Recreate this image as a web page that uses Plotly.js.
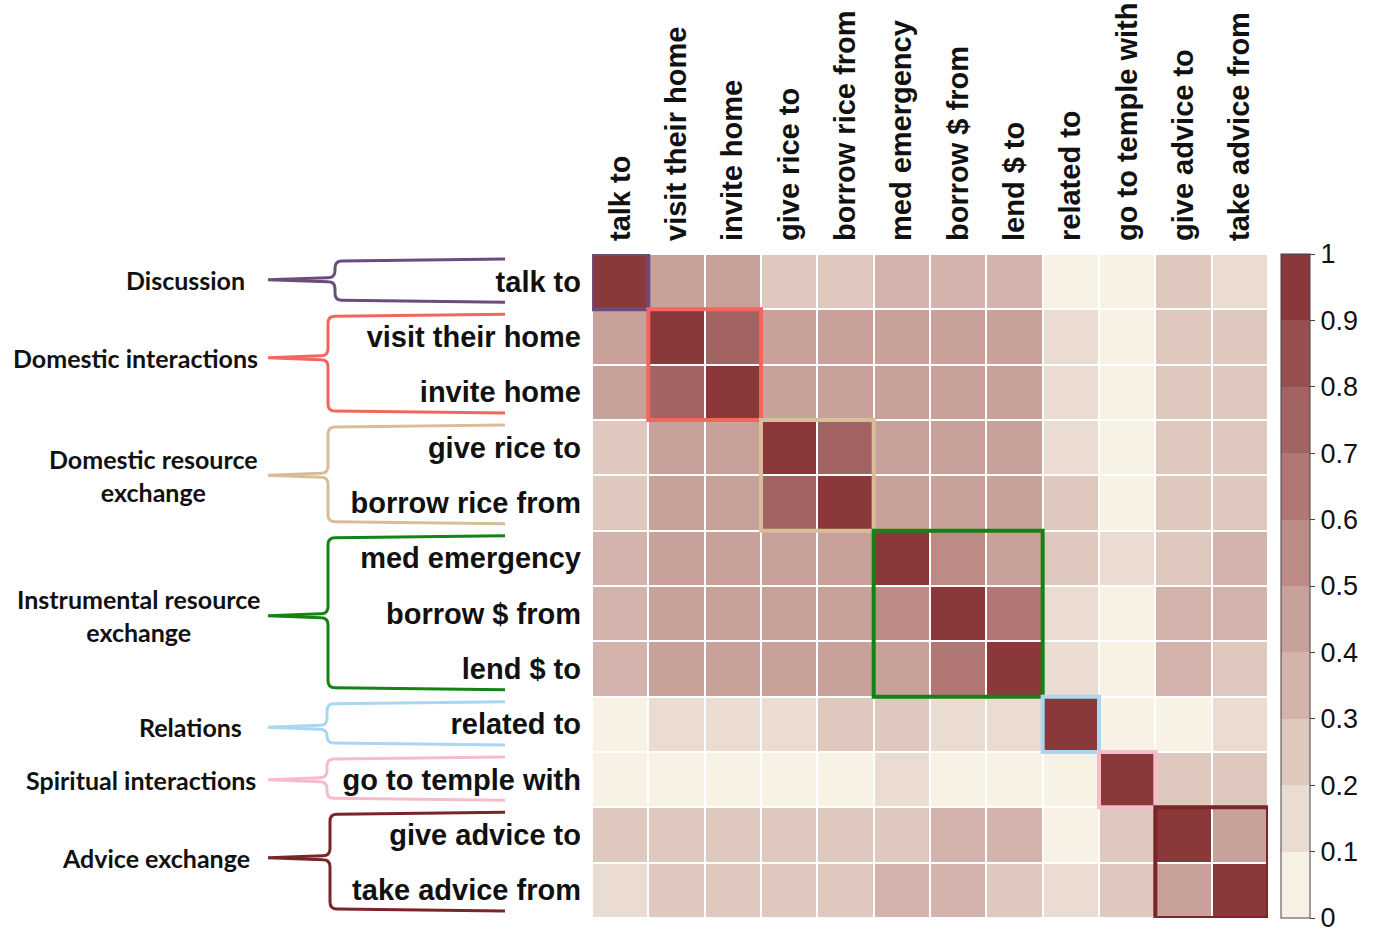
<!DOCTYPE html>
<html>
<head>
<meta charset="utf-8">
<script src="https://cdn.plot.ly/plotly-3.0.1.min.js"></script>
<style>
  html, body { margin: 0; padding: 0; background: #ffffff; }
  #chart { width: 1374px; height: 933px; }
</style>
</head>
<body>
<div id="chart"></div>
<script>
// ---------- DATA ----------
const relationTypes = [
  "talk to", "visit their home", "invite home", "give rice to", "borrow rice from",
  "med emergency", "borrow $ from", "lend $ to", "related to", "go to temple with",
  "give advice to", "take advice from"
];

// one row per relation type (rows top to bottom), columns in the same order
const rowTalkTo          = [1.00, 0.45, 0.45, 0.25, 0.25, 0.35, 0.35, 0.35, 0.05, 0.05, 0.25, 0.15];
const rowVisitTheirHome  = [0.45, 1.00, 0.75, 0.45, 0.45, 0.45, 0.45, 0.45, 0.15, 0.05, 0.25, 0.25];
const rowInviteHome      = [0.45, 0.75, 1.00, 0.45, 0.45, 0.45, 0.45, 0.45, 0.15, 0.05, 0.25, 0.25];
const rowGiveRiceTo      = [0.25, 0.45, 0.45, 1.00, 0.75, 0.45, 0.45, 0.45, 0.15, 0.05, 0.25, 0.25];
const rowBorrowRiceFrom  = [0.25, 0.45, 0.45, 0.75, 1.00, 0.45, 0.45, 0.45, 0.25, 0.05, 0.25, 0.25];
const rowMedEmergency    = [0.35, 0.45, 0.45, 0.45, 0.45, 1.00, 0.55, 0.45, 0.25, 0.15, 0.25, 0.35];
const rowBorrowMoneyFrom = [0.35, 0.45, 0.45, 0.45, 0.45, 0.55, 1.00, 0.65, 0.15, 0.05, 0.35, 0.35];
const rowLendMoneyTo     = [0.35, 0.45, 0.45, 0.45, 0.45, 0.45, 0.65, 1.00, 0.15, 0.05, 0.35, 0.25];
const rowRelatedTo       = [0.05, 0.15, 0.15, 0.15, 0.25, 0.25, 0.15, 0.15, 1.00, 0.05, 0.05, 0.15];
const rowGoToTempleWith  = [0.05, 0.05, 0.05, 0.05, 0.05, 0.15, 0.05, 0.05, 0.05, 1.00, 0.25, 0.25];
const rowGiveAdviceTo    = [0.25, 0.25, 0.25, 0.25, 0.25, 0.25, 0.35, 0.35, 0.05, 0.25, 1.00, 0.45];
const rowTakeAdviceFrom  = [0.15, 0.25, 0.25, 0.25, 0.25, 0.35, 0.35, 0.25, 0.15, 0.25, 0.45, 1.00];

const colorbarTickValues = [0, 0.1, 0.2, 0.3, 0.4, 0.5, 0.6, 0.7, 0.8, 0.9, 1];
const colorbarTickLabels = ["0", "0.1", "0.2", "0.3", "0.4", "0.5", "0.6", "0.7", "0.8", "0.9", "1"];

// groups of relation types: label, first row, last row
const groupNames = [
  "Discussion", "Domestic interactions", "Domestic resource<br>exchange",
  "Instrumental resource<br>exchange", "Relations", "Spiritual interactions", "Advice exchange"
];
const groupFirstRow = [0, 1, 3, 5, 8, 9, 10];
const groupLastRow  = [0, 2, 4, 7, 8, 9, 11];

// ---------- STYLE ----------
const binColors = ["#F7F2E4", "#EBDCD2", "#DFC9BF", "#D3B3AB", "#C8A19A",
                   "#BC8B86", "#B07774", "#A36362", "#984F50", "#8B383B"];
const groupColors = ["#6B4C7B", "#F2675D", "#D8BE98", "#148214", "#A9D6F3", "#F5BDCB", "#7A2529"];
const groupLabelCenterX = [185, 135, 153, 138, 190, 141, 156];
const groupLabelDy      = [-2, -7, 0, 2, 3, 0, -5];
const braceX            = [335, 328, 328, 328, 327, 327, 330];

const z = [rowTalkTo, rowVisitTheirHome, rowInviteHome, rowGiveRiceTo, rowBorrowRiceFrom,
           rowMedEmergency, rowBorrowMoneyFrom, rowLendMoneyTo, rowRelatedTo, rowGoToTempleWith,
           rowGiveAdviceTo, rowTakeAdviceFrom];

// discrete colorscale
const colorscale = [];
binColors.forEach((c, i) => {
  colorscale.push([i / binColors.length, c]);
  colorscale.push([(i + 1) / binColors.length, c]);
});

// geometry (pixels)
const W = 1374, H = 933;
const ML = 592, MR = 106, MT = 254, MB = 15;
const PW = W - ML - MR, PH = H - MT - MB;
const rowH = PH / relationTypes.length;
const fx = px => (px - ML) / PW;
const fy = py => (H - MB - py) / PH;

const shapes = [];
const annotations = [];

// colored rectangles around diagonal blocks
groupFirstRow.forEach((r0, g) => {
  const r1 = groupLastRow[g];
  shapes.push({
    type: "rect", xref: "x", yref: "y",
    x0: r0 - 0.5, x1: r1 + 0.5, y0: r0 - 0.5, y1: r1 + 0.5,
    line: { color: groupColors[g], width: 4 }, fillcolor: "rgba(0,0,0,0)", layer: "above"
  });
});

// curly braces and group labels
const stemX = 268, armX = 505, rad = 7;
groupFirstRow.forEach((r0, g) => {
  const r1 = groupLastRow[g];
  const top = MT + r0 * rowH + 5;
  const bot = MT + (r1 + 1) * rowH - 7;
  const mid = MT + (r0 + r1 + 1) / 2 * rowH + groupLabelDy[g];
  const xb = braceX[g];
  const P = (x, y) => fx(x).toFixed(5) + "," + fy(y).toFixed(5);
  const path =
    "M" + P(armX, top) + " L" + P(xb + rad, top + 2) +
    " Q" + P(xb, top + 2) + " " + P(xb, top + 2 + rad) +
    " L" + P(xb, mid - 2 - rad) +
    " Q" + P(xb, mid - 2) + " " + P(xb - rad, mid - 2) +
    " L" + P(stemX, mid) +
    " L" + P(xb - rad, mid + 2) +
    " Q" + P(xb, mid + 2) + " " + P(xb, mid + 2 + rad) +
    " L" + P(xb, bot - 2 - rad) +
    " Q" + P(xb, bot - 2) + " " + P(xb + rad, bot - 2) +
    " L" + P(armX, bot);
  shapes.push({
    type: "path", xref: "paper", yref: "paper", path: path,
    line: { color: groupColors[g], width: 3 }, fillcolor: "rgba(0,0,0,0)", layer: "above"
  });
  annotations.push({
    xref: "paper", yref: "paper", x: fx(groupLabelCenterX[g]), y: fy(mid),
    xanchor: "center", yanchor: "middle", align: "center", showarrow: false,
    text: groupNames[g],
    font: { family: "Lato, 'Open Sans', sans-serif", size: 25, color: "#111111", weight: 700 }
  });
});

const trace = {
  type: "heatmap",
  x: relationTypes, y: relationTypes, z: z,
  zmin: 0, zmax: 1,
  colorscale: colorscale,
  xgap: 2, ygap: 2,
  colorbar: {
    x: fx(1281), xanchor: "left", xref: "paper", xpad: 0,
    y: 0.5, yanchor: "middle", len: 1, lenmode: "fraction", ypad: 0,
    thickness: 29, thicknessmode: "pixels",
    outlinewidth: 1, outlinecolor: "#444444",
    tickmode: "array", tickvals: colorbarTickValues, ticktext: colorbarTickLabels,
    ticks: "outside", ticklen: 5, tickwidth: 1, tickcolor: "#444444",
    ticklabeloverflow: "allow",
    tickfont: { family: "'Liberation Sans', Arial, sans-serif", size: 27, color: "#111111" }
  }
};

const layout = {
  width: W, height: H,
  margin: { l: ML, r: MR, t: MT, b: MB, pad: 0 },
  paper_bgcolor: "#ffffff", plot_bgcolor: "#ffffff",
  xaxis: {
    side: "top", type: "category", tickangle: -90,
    showgrid: false, zeroline: false, showline: false, ticks: "",
    ticklabelstandoff: 12,
    tickfont: { family: "'Liberation Sans', Arial, sans-serif", size: 29, color: "#111111", weight: 700 },
    range: [-0.5, 11.5], fixedrange: true
  },
  yaxis: {
    type: "category", autorange: false, range: [11.5, -0.5],
    showgrid: false, zeroline: false, showline: false, ticks: "",
    ticklabelstandoff: 10,
    tickfont: { family: "'Liberation Sans', Arial, sans-serif", size: 29, color: "#111111", weight: 700 },
    fixedrange: true
  },
  shapes: shapes,
  annotations: annotations,
  showlegend: false
};

Plotly.newPlot("chart", [trace], layout, { displayModeBar: false, staticPlot: true });
</script>
</body>
</html>
